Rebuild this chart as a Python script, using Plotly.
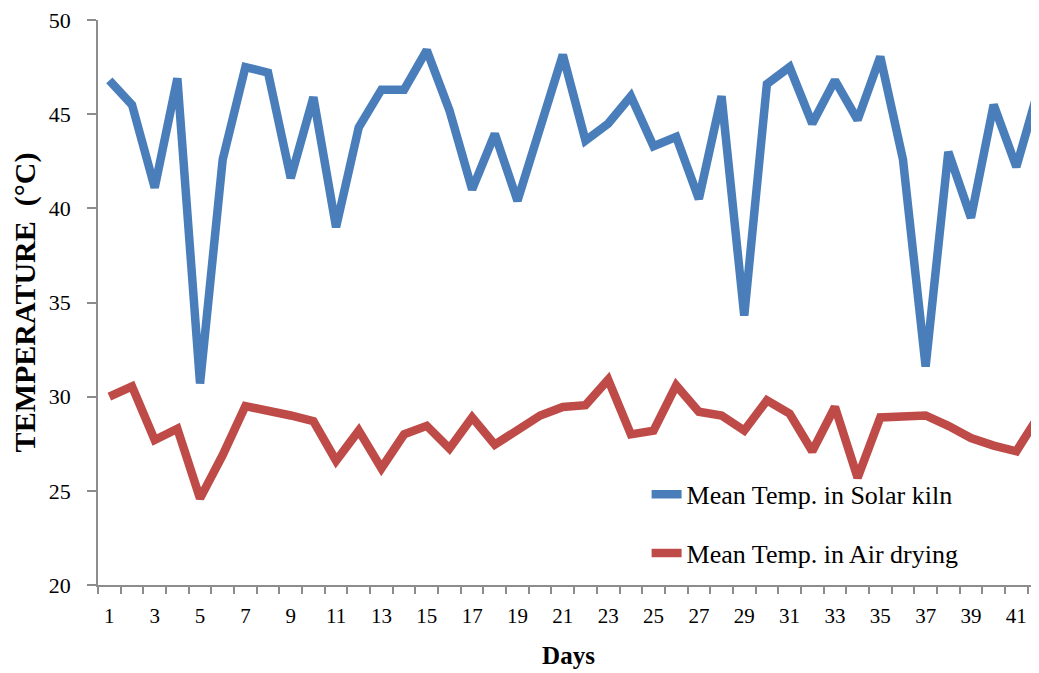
import plotly.graph_objects as go

days = list(range(1, 43))
solar_kiln = [46.8, 45.5, 41.1, 46.9, 30.7, 42.6, 47.5, 47.2, 41.6, 45.9,
              39.0, 44.3, 46.3, 46.3, 48.4, 45.2, 41.0, 43.95, 40.4, 44.2,
              48.15, 43.6, 44.5, 45.95, 43.3, 43.8, 40.5, 45.95, 34.3, 46.6,
              47.5, 44.5, 46.8, 44.7, 48.05, 42.6, 31.6, 43.0, 39.5, 45.5,
              42.2, 46.4]
air_drying = [30.0, 30.55, 27.7, 28.3, 24.6, 26.9, 29.5, 29.3, 29.0, 28.7,
              26.6, 28.2, 26.2, 28.0, 28.45, 27.25, 28.9, 27.45, 28.2, 29.0,
              29.45, 29.55, 30.9, 28.0, 28.2, 30.6, 29.2, 29.0, 28.2, 29.8,
              29.1, 27.1, 29.45, 25.7, 28.9, 29.0, 29.0, 28.45, 27.8, 27.4,
              27.1, 29.0]
x_labels = list(range(1, 42, 2))
y_ticks = [20, 25, 30, 35, 40, 45, 50]

serif = "Liberation Serif, Times New Roman, serif"
axis_grey = "#8c8c8c"

fig = go.Figure()
fig.add_trace(go.Scatter(x=days, y=solar_kiln, mode="lines",
                         name="Mean Temp. in Solar kiln",
                         legendgroup="a",
                         line=dict(color="#4A7EBB", width=8.5)))
fig.add_trace(go.Scatter(x=days, y=air_drying, mode="lines",
                         name="Mean Temp. in Air drying",
                         legendgroup="b",
                         line=dict(color="#BE4B48", width=8.5)))

# page body has an 8px default margin, so the figure is sized/offset to fit
fig.update_layout(
    width=1031, height=665,
    margin=dict(l=90, r=0, t=12, b=88, autoexpand=False),
    paper_bgcolor="white", plot_bgcolor="white",
    font=dict(family=serif, color="black"),
    showlegend=True,
    legend=dict(x=0.583, y=0.202, xanchor="left", yanchor="top",
                bgcolor="rgba(0,0,0,0)", font=dict(size=26, family=serif),
                traceorder="grouped", tracegroupgap=22),
    xaxis=dict(range=[0.5, 42.0], tickvals=x_labels,
               ticktext=[str(v) for v in x_labels],
               ticks="", showgrid=False, zeroline=False, automargin=False,
               showline=True, linecolor=axis_grey, linewidth=1.5,
               tickfont=dict(size=21, family=serif), ticklabelstandoff=11,
               ticklabeloverflow="allow",
               minor=dict(tick0=0.5, dtick=1, ticks="outside", ticklen=7,
                          tickcolor=axis_grey, tickwidth=1.5, showgrid=False),
               title=dict(text="<b>Days</b>", font=dict(size=25, family=serif),
                          standoff=20)),
    yaxis=dict(range=[20, 50], tickvals=y_ticks, ticks="outside", ticklen=9,
               tickcolor=axis_grey, tickwidth=1.5, automargin=False,
               showgrid=False, zeroline=False, ticklabeloverflow="allow",
               showline=True, linecolor=axis_grey, linewidth=1.5,
               tickfont=dict(size=22, family=serif), ticklabelstandoff=12,
               title=dict(text="<b>TEMPERATURE  (°C)</b>",
                          font=dict(size=30, family=serif), standoff=8)),
)

fig.write_html("out.html")
